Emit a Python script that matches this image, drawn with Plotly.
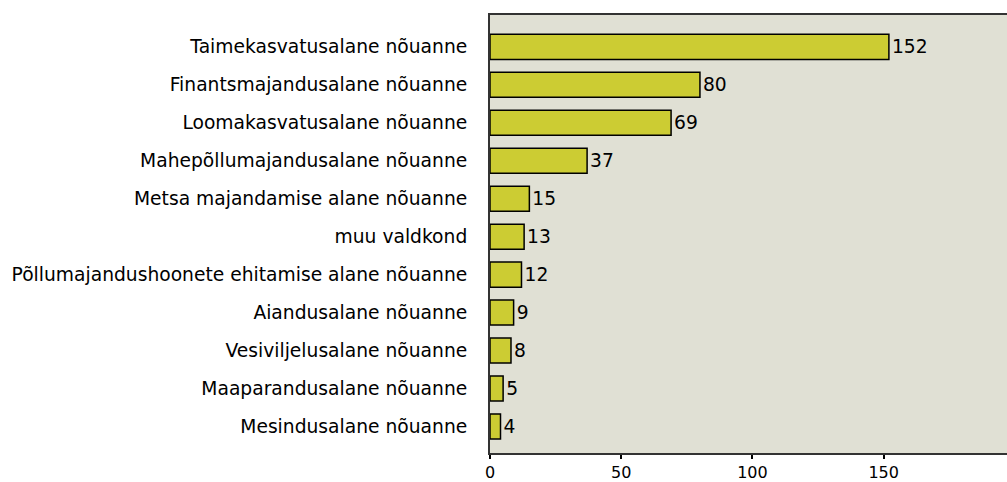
import plotly.graph_objects as go

categories = [
    "Taimekasvatusalane nõuanne",
    "Finantsmajandusalane nõuanne",
    "Loomakasvatusalane nõuanne",
    "Mahepõllumajandusalane nõuanne",
    "Metsa majandamise alane nõuanne",
    "muu valdkond",
    "Põllumajandushoonete ehitamise alane nõuanne",
    "Aiandusalane nõuanne",
    "Vesiviljelusalane nõuanne",
    "Maaparandusalane nõuanne",
    "Mesindusalane nõuanne",
]
values = [152, 80, 69, 37, 15, 13, 12, 9, 8, 5, 4]
x_ticks = [0, 50, 100, 150]

FONT = "DejaVu Sans"
FS = 18.7

fig = go.Figure(
    go.Bar(
        x=values,
        y=categories,
        orientation="h",
        width=0.66,
        marker=dict(color="#CCCC33", line=dict(color="#000000", width=1.5)),
        text=[str(v) for v in values],
        textposition="outside",
        textfont=dict(family=FONT, size=FS, color="#000000"),
        cliponaxis=False,
    )
)

n = len(categories)
fig.update_layout(
    width=1007,
    height=482,
    margin=dict(l=490, r=0, t=15, b=29, autoexpand=False),
    paper_bgcolor="#FFFFFF",
    plot_bgcolor="#E0E0D4",
    showlegend=False,
    font=dict(family=FONT, size=FS, color="#000000"),
)
fig.update_xaxes(
    range=[0, 197],
    tickvals=x_ticks,
    ticks="outside",
    ticklen=4,
    tickcolor="#000000",
    tickwidth=1.5,
    showgrid=False,
    zeroline=False,
    showline=True,
    linecolor="#333333",
    linewidth=2,
    mirror=True,
    automargin=False,
    tickfont=dict(family=FONT, size=16, color="#000000"),
)
fig.update_yaxes(
    type="category",
    categoryorder="array",
    categoryarray=categories,
    range=[n - 1 + 0.7, -0.84],
    showgrid=False,
    zeroline=False,
    showline=True,
    linecolor="#333333",
    linewidth=2,
    ticks="",
    ticklabelstandoff=17,
    automargin=False,
    tickfont=dict(family=FONT, size=FS, color="#000000"),
)

fig.write_html(
    "out.html",
    config={"displayModeBar": False},
    post_script="document.body.style.margin='0';document.body.style.overflow='hidden';",
)
